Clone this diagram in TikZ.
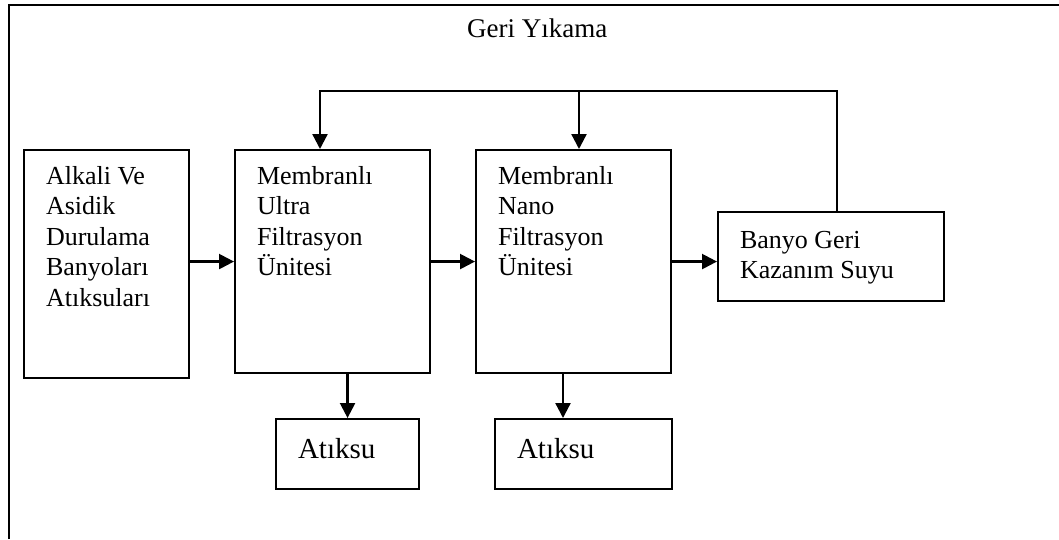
\documentclass[tikz,border=0pt]{standalone}
\usepackage{fontspec}
\setmainfont{Liberation Serif}
\usetikzlibrary{arrows.meta}

% Box content: width, height, first-baseline offset, text
\newcommand{\boxbody}[4]{%
  \parbox[c][#2][t]{#1}{\raggedright\leftskip=22pt\rule{0pt}{#3}#4}}

\tikzset{
  box/.style={draw, line width=2.1pt, inner sep=0pt, anchor=north west},
  body/.style={font=\fontsize{26}{30.5}\selectfont},
  small/.style={font=\fontsize{29}{33}\selectfont},
  link/.style={line width=2.3pt},
  arr/.style={link, -{Triangle[length=15pt,width=15pt]}},
}

\begin{document}
\begin{tikzpicture}[x=1pt, y=-1pt]
  \useasboundingbox (0,0) rectangle (1059,539);

  % open frame: left and top edges only
  \draw[line width=1.8pt] (9,539) -- (9,5) -- (1059,5);
  \node[anchor=base west, inner sep=0pt, font=\fontsize{27}{30}\selectfont] (title) at (467,37) {Geri Yıkama};

  % process boxes
  \node[box, body] (a) at (23,149) {\boxbody{165pt}{228pt}{34pt}{Alkali Ve\\Asidik\\Durulama\\Banyoları\\Atıksuları}};
  \node[box, body] (b) at (234,149) {\boxbody{195pt}{223pt}{34pt}{Membranlı\\Ultra\\Filtrasyon\\Ünitesi}};
  \node[box, body] (c) at (475,149) {\boxbody{195pt}{223pt}{34pt}{Membranlı\\Nano\\Filtrasyon\\Ünitesi}};
  \node[box, body] (d) at (717,211) {\boxbody{226pt}{89pt}{36pt}{Banyo Geri\\Kazanım Suyu}};
  \node[box, small] (e1) at (275,418) {\boxbody{143pt}{70pt}{39pt}{Atıksu}};
  \node[box, small] (e2) at (494,418) {\boxbody{177pt}{70pt}{39pt}{Atıksu}};

  % routing points of the recycle line
  \coordinate (fr) at (837,91);
  \coordinate (fl) at (320,91);
  \coordinate (fm) at (579,91);
  \coordinate (dx) at (563,0);

  % main flow
  \draw[arr] (a.east |- b.west) -- (b.west);
  \draw[arr] (b.east) -- (c.west);
  \draw[arr] (c.east) -- (c.east -| d.west);

  % recycle back to the membrane units
  \draw[arr] (d.north -| fr) -- (fr) -- (fl) -- (fl |- b.north);
  \draw[arr] (fm) -- (fm |- c.north);

  % waste streams
  \draw[arr] (b.south -| e1.north) -- (e1.north);
  \draw[arr] (c.south -| dx) -- (dx |- e2.north);
\end{tikzpicture}
\end{document}
